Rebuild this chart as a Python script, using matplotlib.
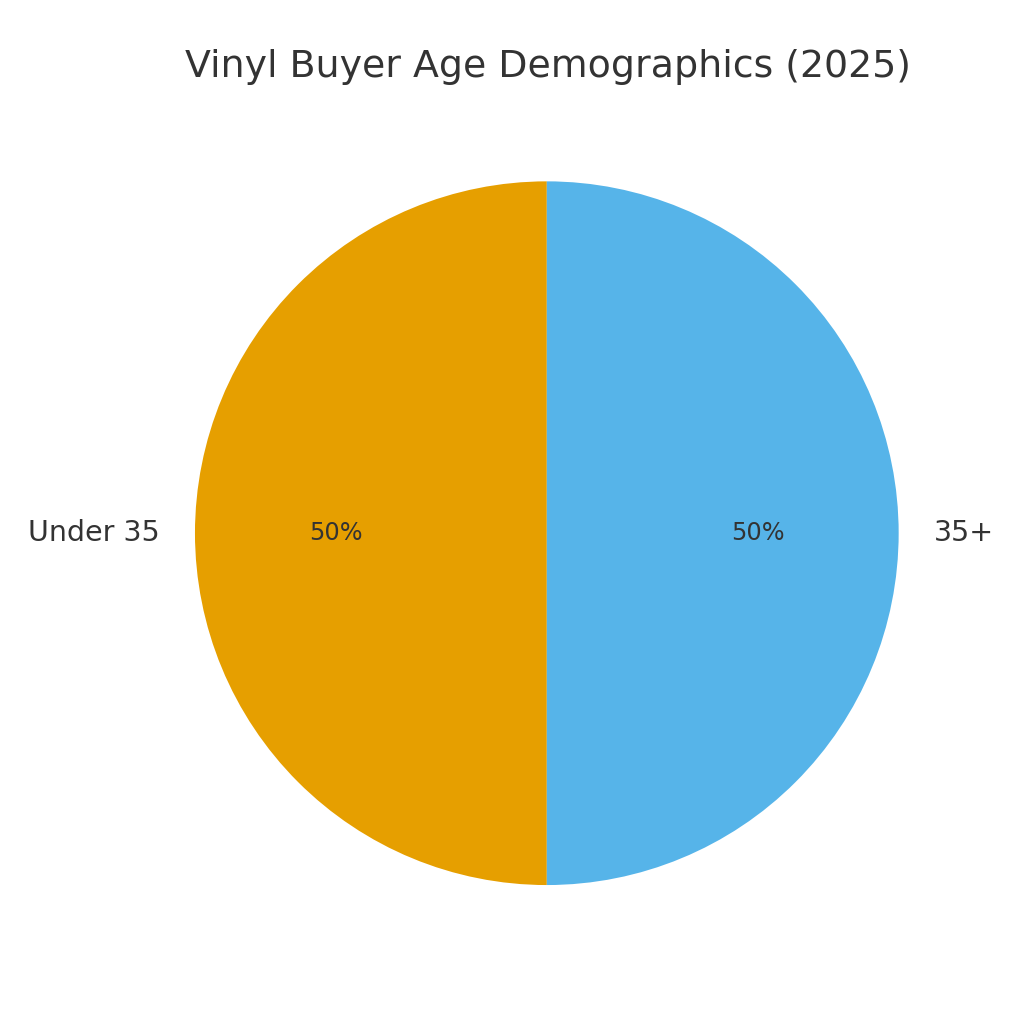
import matplotlib
matplotlib.use("Agg")
import matplotlib.pyplot as plt

labels = ["Under 35", "35+"]
shares = [50, 50]
colors = ["#E69F00", "#56B4E9"]

fig = plt.figure(figsize=(8, 8), dpi=128)
ax = fig.add_axes([0.1045, 0.0498, 0.859, 0.859])

wedges, texts, autotexts = ax.pie(
    shares, labels=labels, colors=colors, autopct="%1.0f%%",
    startangle=90, textprops={"color": "#333333", "fontsize": 16},
)
for t in autotexts:
    t.set_fontsize(13.5)
ax.set_aspect("equal")
ax.set_xlim(-1.25, 1.25)
ax.set_ylim(-1.25, 1.25)

fig.text(0.535, 0.935, "Vinyl Buyer Age Demographics (2025)", ha="center",
         va="center", fontsize=21.3, color="#333333")

fig.savefig("out.png", dpi=128)
